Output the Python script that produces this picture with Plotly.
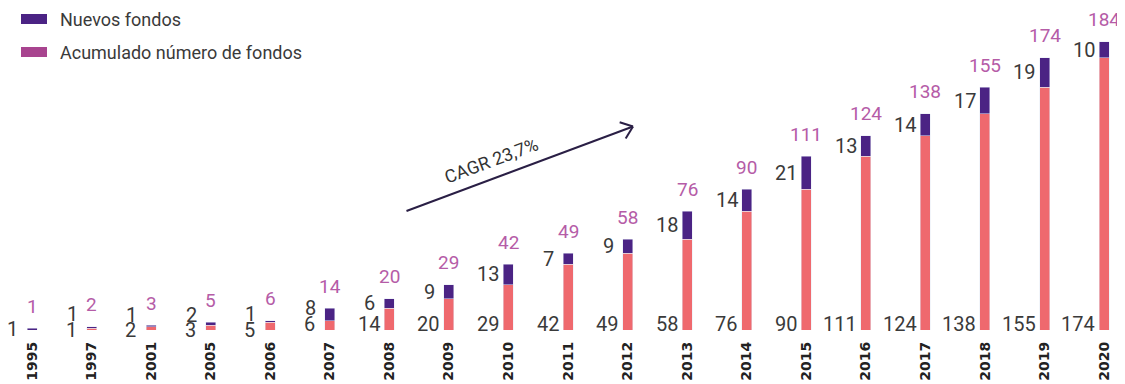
import math
import plotly.graph_objects as go

# ---- data ----
years = ["1995", "1997", "2001", "2005", "2006", "2007", "2008", "2009", "2010", "2011",
         "2012", "2013", "2014", "2015", "2016", "2017", "2018", "2019", "2020"]
acumulado = [0, 1, 2, 3, 5, 6, 14, 20, 29, 42, 49, 58, 76, 90, 111, 124, 138, 155, 174]
nuevos = [1, 1, 1, 2, 1, 8, 6, 9, 13, 7, 9, 18, 14, 21, 13, 14, 17, 19, 10]
totales = [a + n for a, n in zip(acumulado, nuevos)]

# ---- style ----
OFF = 8                       # page body margin of the browser
W, H = 1125 - OFF, 384 - OFF
PLOT_H = 322
Y_MAX = 205.7
SCALE = PLOT_H / Y_MAX
C_CORAL = "#EF696E"
C_PURPLE = "#4B2384"
C_MAGENTA = "#B55CA7"
C_LEG_MAG = "#A8448F"
C_TEXT = "#3A3A3A"
FONT = "Roboto"
NUM_FONT = "Liberation Sans Narrow, Roboto"
LBL_SIZE = 20


def label_shift(text, base):
    # centre the label ~20 px left of the bar, but keep a 4 px gap from the bar
    w = len(text) * 0.56 * LBL_SIZE
    return min(base, -(5 + 4 + w / 2))


idx = list(range(len(years)))

fig = go.Figure()
fig.add_trace(go.Bar(x=idx, y=acumulado, marker_color=C_CORAL, width=0.168,
                     name="Acumulado número de fondos", showlegend=False))
fig.add_trace(go.Bar(x=idx, y=nuevos, marker_color=C_PURPLE, width=0.168,
                     name="Nuevos fondos", showlegend=False))

ann = []
for i, a, n, t in zip(idx, acumulado, nuevos, totales):
    ann.append(dict(x=i, y=t, text=str(t), showarrow=False, yanchor="middle", yshift=22,
                    font=dict(color=C_MAGENTA, size=19, family=NUM_FONT)))
    base_shift = 0 if a < 6 else 6.5
    if a > 0:
        ann.append(dict(x=i, y=0, text=str(a), showarrow=False, xanchor="center",
                        xshift=label_shift(str(a), -20.5),
                        yanchor="middle", yshift=base_shift,
                        font=dict(color=C_TEXT, size=LBL_SIZE, family=NUM_FONT)))
    mid = a + n / 2
    extra = 0
    if a > 0:
        need = base_shift + 15.5
        extra = max(0, need - mid * SCALE)
    ann.append(dict(x=i, y=mid, text=str(n), showarrow=False, xanchor="center",
                    xshift=label_shift(str(n), -19.5),
                    yanchor="middle", yshift=extra,
                    font=dict(color=C_TEXT, size=LBL_SIZE, family=NUM_FONT)))

# pixel geometry of the screenshot -> paper coords
def px(xp, yp):
    return (xp - OFF) / W, (PLOT_H - (yp - OFF)) / PLOT_H

S = (406.5, 211.0)
T = (633.0, 126.5)
dx, dy = T[0] - S[0], T[1] - S[1]
L = math.hypot(dx, dy)
ux, uy = dx / L, dy / L
arms = []
for ang in (38, -38):
    r = math.radians(ang)
    bx, by = -ux, -uy
    rx = bx * math.cos(r) - by * math.sin(r)
    ry = bx * math.sin(r) + by * math.cos(r)
    arms.append((T[0] + 14 * rx, T[1] + 14 * ry))

shapes = []
def seg(p, q):
    a0, b0 = px(*p)
    a1, b1 = px(*q)
    shapes.append(dict(type="line", xref="paper", yref="paper", x0=a0, y0=b0, x1=a1, y1=b1,
                       line=dict(color="#2A1F45", width=2)))
seg(S, T)
seg(arms[0], T)
seg(arms[1], T)

cx, cy = px(491, 160)
ann.append(dict(xref="paper", yref="paper", x=cx, y=cy, text="CAGR 23,7%", showarrow=False,
                textangle=-20.5, font=dict(color="#333333", size=18, family=FONT)))

# legend drawn manually
for (label, col, yc) in [("Nuevos fondos", C_PURPLE, 19), ("Acumulado número de fondos", C_LEG_MAG, 52)]:
    x0, y0 = px(21, yc - 5)
    x1, y1 = px(47, yc + 5)
    shapes.append(dict(type="rect", xref="paper", yref="paper", x0=x0, y0=y1, x1=x1, y1=y0,
                       fillcolor=col, line=dict(width=0)))
    tx, ty = px(58, yc)
    ann.append(dict(xref="paper", yref="paper", x=tx, y=ty, text=label, showarrow=False,
                    xanchor="left", yanchor="middle",
                    font=dict(color=C_TEXT, size=18, family=FONT)))

x_left = -24 / 59.56
fig.update_layout(
    barmode="stack", width=W, height=H,
    margin=dict(l=0, r=0, t=0, b=H - PLOT_H),
    paper_bgcolor="white", plot_bgcolor="white",
    annotations=ann, shapes=shapes, showlegend=False,
    xaxis=dict(range=[x_left, x_left + W / 59.56], tickangle=-90,
               tickmode="array", tickvals=idx, ticktext=years,
               tickfont=dict(size=14, color="#222222", family="DejaVu Sans", weight="bold"),
               showgrid=False, showline=False, zeroline=False, ticks="",
               ticklabelstandoff=8),
    yaxis=dict(range=[0, Y_MAX], visible=False),
)
fig.write_html("out.html")
